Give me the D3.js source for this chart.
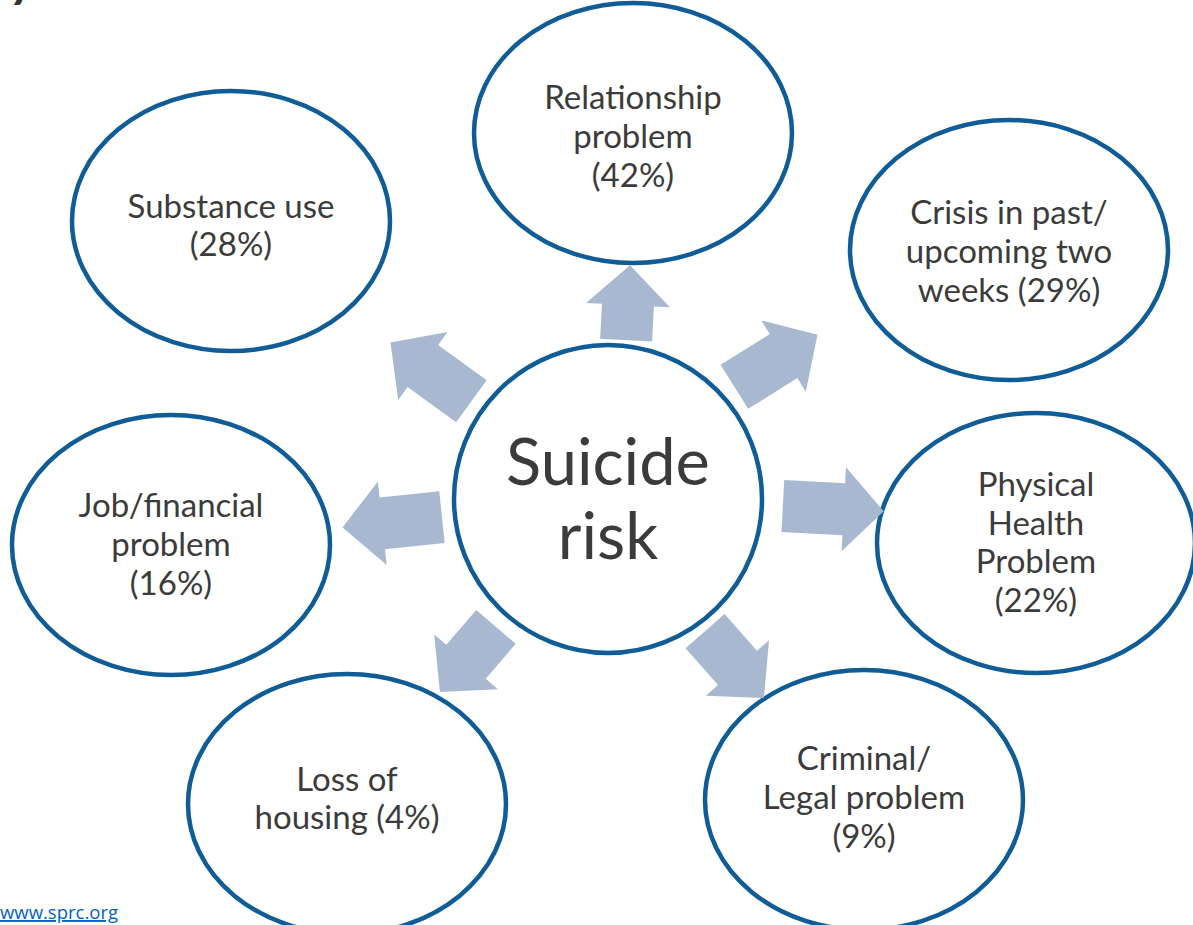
<!DOCTYPE html>
<html>
<head>
<meta charset="utf-8">
<script src="https://cdn.jsdelivr.net/npm/d3@7"></script>
<style>
  html, body { margin: 0; padding: 0; background: #fff; }
  svg { display: block; }
</style>
</head>
<body>
<svg id="chart" width="1193" height="925"></svg>
<script>
// categories (lines of each label, %p is replaced by the share)
const factorLines = [
  ['Relationship', 'problem', '(%p%)'],
  ['Crisis in past/', 'upcoming two', 'weeks (%p%)'],
  ['Physical', 'Health', 'Problem', '(%p%)'],
  ['Criminal/', 'Legal problem', '(%p%)'],
  ['Loss of', 'housing (%p%)'],
  ['Job/financial', 'problem', '(%p%)'],
  ['Substance use', '(%p%)']
];
// share of suicides with each circumstance
const factorPct = [42, 29, 22, 9, 4, 16, 28];
const centerLines = ['Suicide', 'risk'];

// layout: ellipse centres, arrow direction (deg), arrow anchor angle, anchor radius, arrow length
const nodeX = [633, 1009, 1036, 864, 347, 171, 231];
const nodeY = [133, 250, 543, 800, 804, 545, 221];
const textShift = [4, 2, 0, -2, -5, 0, 5];
const arrowDir = [-87, -32, 3, 48.6, 130.7, 174, 216];
const anchorAng = [-83.5, -41.6, 2.3, 53.7, 131.2, 173.8, 215.6];
const anchorR = [160, 169, 175, 164, 170, 167, 168];
const arrowLen = [75, 98, 101, 89, 86, 100, 100];

const cx = 608, cy = 499, cr = 154;
const rx = 159, ry = 130;
const blue = '#0f5c97';
const arrowFill = '#a9b8d1';
const textCol = '#3b3b3b';
const font = 'Lato, "Open Sans", sans-serif';

const svg = d3.select('#chart');
svg.selectChildren().remove();

const nodes = factorPct.map((p, i) => ({
  lines: factorLines[i].map(s => s.replace('%p', p)),
  x: nodeX[i], y: nodeY[i], ty: nodeY[i] + textShift[i],
  dir: arrowDir[i],
  ax: cx + anchorR[i] * Math.cos(anchorAng[i] * Math.PI / 180),
  ay: cy + anchorR[i] * Math.sin(anchorAng[i] * Math.PI / 180),
  len: arrowLen[i]
}));

// clipped title glyph at the very top
svg.append('text')
  .attr('x', 12).attr('y', -3)
  .style('font-family', font).style('font-weight', 900).style('font-style', 'italic')
  .style('font-size', '46px').style('fill', '#333')
  .text('y');

// block arrow shape along +x
function arrowPath(L) {
  const w = 26, W = 42, h = 40;
  return d3.line()([
    [0, -w], [L - h, -w], [L - h, -W], [L, 0], [L - h, W], [L - h, w], [0, w]
  ]) + 'Z';
}

// outer ellipses
const g = svg.append('g');
const node = g.selectAll('g.node')
  .data(nodes)
  .enter()
  .append('g')
  .attr('class', 'node');

node.append('ellipse')
  .attr('cx', d => d.x)
  .attr('cy', d => d.y)
  .attr('rx', rx)
  .attr('ry', ry)
  .style('fill', '#fff')
  .style('stroke', blue)
  .style('stroke-width', 4.5);

node.append('text')
  .attr('text-anchor', 'middle')
  .style('font-family', font)
  .style('font-size', '33px')
  .style('fill', textCol)
  .each(function (d) {
    const n = d.lines.length, lh = 38.8;
    const y0 = d.ty - (n - 1) * lh / 2 + 11;
    d3.select(this).selectAll('tspan')
      .data(d.lines)
      .enter()
      .append('tspan')
      .attr('x', d.x)
      .attr('y', (s, j) => y0 + j * lh)
      .text(s => s);
  });

// arrows
g.selectAll('path.arrow')
  .data(nodes)
  .enter()
  .append('path')
  .attr('class', 'arrow')
  .attr('d', d => arrowPath(d.len))
  .attr('transform', d => 'translate(' + d.ax + ',' + d.ay + ') rotate(' + d.dir + ')')
  .style('fill', arrowFill);

// centre circle
svg.append('circle')
  .attr('cx', cx).attr('cy', cy).attr('r', cr)
  .style('fill', '#fff')
  .style('stroke', blue)
  .style('stroke-width', 4.5);

svg.append('text')
  .attr('text-anchor', 'middle')
  .style('font-family', font)
  .style('font-size', '65px')
  .style('fill', textCol)
  .selectAll('tspan')
  .data(centerLines)
  .enter()
  .append('tspan')
  .attr('x', cx)
  .attr('y', (s, j) => 485 + j * 74)
  .text(s => s);

// source link
svg.append('text')
  .attr('x', 0).attr('y', 919)
  .style('font-family', '"Open Sans", sans-serif')
  .style('font-size', '18.5px')
  .style('fill', '#0563c1')
  .style('text-decoration', 'underline')
  .text('www.sprc.org');
</script>
</body>
</html>
